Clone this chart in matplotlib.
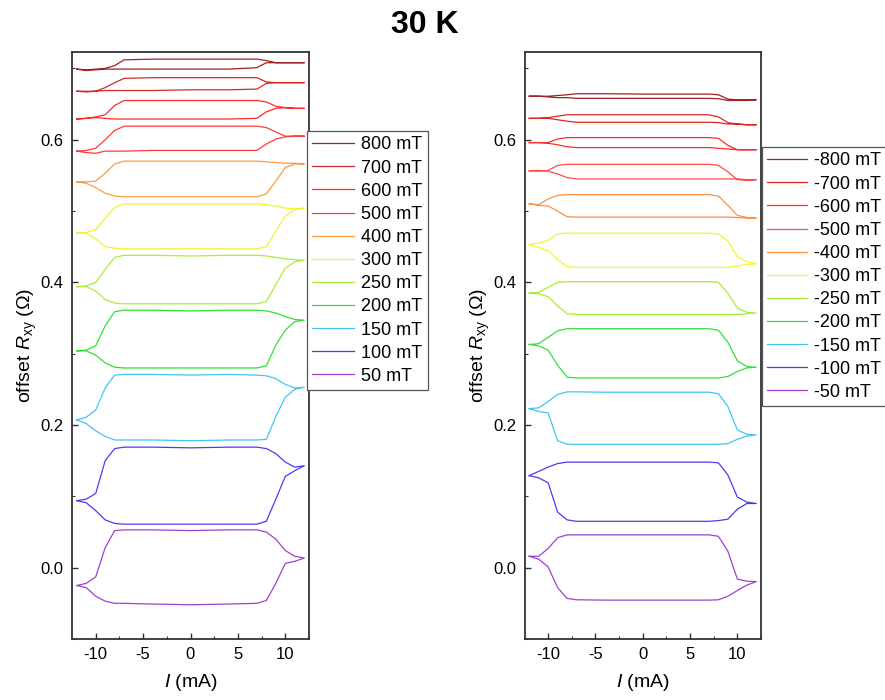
import numpy as np
import matplotlib
matplotlib.use('Agg')
import matplotlib.pyplot as plt

plt.rcParams['font.family'] = ['Liberation Sans', 'DejaVu Sans']
plt.rcParams['mathtext.fontset'] = 'custom'
plt.rcParams['mathtext.rm'] = 'Liberation Sans'
plt.rcParams['mathtext.it'] = 'Liberation Sans:italic'
plt.rcParams['axes.unicode_minus'] = False

# current sweep points (mA) shared by all branches
I_grid = [-12, -11, -10, -9, -8, -7, -4, 0, 4, 7, 8, 9, 10, 11, 12]

# positive fields (mT), top to bottom
pos_fields = [800, 700, 600, 500, 400, 300, 250, 200, 150, 100, 50]
pos_colors = ['#A02222', '#D42A2A', '#FF2A2A', '#FF3C3C', '#FF9A40', '#F2F230',
              '#A8EE3C', '#34E034', '#44C4F2', '#4B3CF0', '#A040D0']
pos_upper = {
    800: [0.699, 0.698, 0.699, 0.700, 0.704, 0.712, 0.713, 0.713, 0.713, 0.713, 0.711, 0.708, 0.708, 0.708, 0.708],
    700: [0.668, 0.668, 0.668, 0.673, 0.680, 0.686, 0.687, 0.687, 0.687, 0.687, 0.681, 0.680, 0.680, 0.680, 0.680],
    600: [0.629, 0.630, 0.632, 0.635, 0.648, 0.655, 0.655, 0.655, 0.655, 0.655, 0.653, 0.647, 0.645, 0.644, 0.644],
    500: [0.584, 0.585, 0.588, 0.600, 0.613, 0.619, 0.619, 0.619, 0.619, 0.619, 0.617, 0.611, 0.605, 0.605, 0.605],
    400: [0.541, 0.541, 0.542, 0.553, 0.566, 0.570, 0.570, 0.570, 0.570, 0.570, 0.569, 0.568, 0.567, 0.567, 0.566],
    300: [0.469, 0.470, 0.474, 0.490, 0.505, 0.510, 0.510, 0.510, 0.510, 0.510, 0.509, 0.507, 0.504, 0.503, 0.504],
    250: [0.394, 0.395, 0.400, 0.418, 0.435, 0.438, 0.438, 0.437, 0.438, 0.438, 0.437, 0.435, 0.433, 0.432, 0.431],
    200: [0.304, 0.305, 0.311, 0.339, 0.359, 0.361, 0.361, 0.360, 0.361, 0.361, 0.360, 0.357, 0.352, 0.348, 0.347],
    150: [0.207, 0.211, 0.221, 0.252, 0.270, 0.271, 0.271, 0.270, 0.271, 0.270, 0.269, 0.265, 0.257, 0.252, 0.253],
    100: [0.094, 0.096, 0.104, 0.150, 0.167, 0.169, 0.169, 0.168, 0.169, 0.169, 0.167, 0.160, 0.148, 0.141, 0.143],
    50: [-0.025, -0.022, -0.013, 0.028, 0.052, 0.053, 0.053, 0.052, 0.053, 0.053, 0.050, 0.040, 0.024, 0.016, 0.0135],
}
pos_lower = {
    800: [0.699, 0.697, 0.698, 0.699, 0.699, 0.699, 0.699, 0.699, 0.699, 0.701, 0.708, 0.708, 0.708, 0.708, 0.708],
    700: [0.668, 0.667, 0.668, 0.669, 0.669, 0.669, 0.669, 0.670, 0.670, 0.671, 0.679, 0.680, 0.680, 0.680, 0.680],
    600: [0.629, 0.630, 0.631, 0.630, 0.629, 0.629, 0.629, 0.629, 0.629, 0.630, 0.639, 0.644, 0.645, 0.644, 0.644],
    500: [0.584, 0.582, 0.581, 0.584, 0.584, 0.584, 0.585, 0.585, 0.585, 0.585, 0.594, 0.601, 0.604, 0.605, 0.605],
    400: [0.541, 0.539, 0.533, 0.525, 0.521, 0.520, 0.520, 0.520, 0.520, 0.520, 0.524, 0.542, 0.561, 0.566, 0.566],
    300: [0.469, 0.469, 0.461, 0.450, 0.448, 0.447, 0.447, 0.447, 0.447, 0.447, 0.450, 0.472, 0.493, 0.502, 0.504],
    250: [0.394, 0.394, 0.388, 0.376, 0.371, 0.370, 0.370, 0.370, 0.370, 0.370, 0.373, 0.397, 0.420, 0.429, 0.431],
    200: [0.304, 0.304, 0.298, 0.287, 0.281, 0.280, 0.280, 0.280, 0.280, 0.280, 0.283, 0.312, 0.333, 0.345, 0.347],
    150: [0.207, 0.202, 0.192, 0.184, 0.179, 0.179, 0.179, 0.178, 0.179, 0.179, 0.180, 0.212, 0.239, 0.250, 0.253],
    100: [0.094, 0.091, 0.080, 0.067, 0.062, 0.061, 0.061, 0.061, 0.061, 0.061, 0.065, 0.096, 0.128, 0.136, 0.143],
    50: [-0.025, -0.028, -0.040, -0.047, -0.050, -0.050, -0.051, -0.052, -0.051, -0.050, -0.046, -0.022, 0.006, 0.009, 0.0135],
}

# negative fields (mT), top to bottom
neg_fields = [-800, -700, -600, -500, -400, -300, -250, -200, -150, -100, -50]
neg_colors = ['#A02222', '#E02424', '#FF2A2A', '#FF4A4A', '#FF9040', '#F5F530',
              '#A8EE30', '#34E040', '#44C4F2', '#4B3CF0', '#A040D0']
neg_upper = {
    -800: [0.661, 0.661, 0.661, 0.662, 0.663, 0.6645, 0.6645, 0.664, 0.664, 0.664, 0.663, 0.657, 0.656, 0.656, 0.656],
    -700: [0.630, 0.630, 0.631, 0.633, 0.635, 0.635, 0.635, 0.635, 0.635, 0.635, 0.632, 0.624, 0.622, 0.621, 0.621],
    -600: [0.596, 0.596, 0.596, 0.601, 0.603, 0.603, 0.603, 0.603, 0.603, 0.603, 0.602, 0.592, 0.586, 0.586, 0.586],
    -500: [0.5565, 0.556, 0.557, 0.564, 0.5655, 0.5655, 0.5655, 0.5655, 0.5655, 0.5655, 0.564, 0.555, 0.544, 0.543, 0.544],
    -400: [0.510, 0.509, 0.517, 0.522, 0.523, 0.523, 0.523, 0.523, 0.523, 0.523, 0.521, 0.508, 0.494, 0.491, 0.490],
    -300: [0.453, 0.455, 0.459, 0.468, 0.469, 0.469, 0.469, 0.469, 0.469, 0.469, 0.468, 0.458, 0.436, 0.429, 0.426],
    -250: [0.385, 0.386, 0.393, 0.400, 0.401, 0.401, 0.401, 0.401, 0.401, 0.401, 0.400, 0.385, 0.364, 0.358, 0.357],
    -200: [0.313, 0.314, 0.323, 0.332, 0.335, 0.335, 0.335, 0.335, 0.335, 0.335, 0.333, 0.316, 0.290, 0.282, 0.281],
    -150: [0.223, 0.224, 0.233, 0.243, 0.2465, 0.2465, 0.246, 0.246, 0.246, 0.246, 0.244, 0.226, 0.193, 0.187, 0.186],
    -100: [0.129, 0.135, 0.141, 0.146, 0.148, 0.148, 0.148, 0.148, 0.148, 0.148, 0.147, 0.130, 0.099, 0.092, 0.090],
    -50: [0.016, 0.016, 0.027, 0.042, 0.046, 0.046, 0.046, 0.046, 0.046, 0.046, 0.044, 0.023, -0.016, -0.019, -0.0195],
}
neg_lower = {
    -800: [0.661, 0.661, 0.660, 0.659, 0.659, 0.658, 0.658, 0.658, 0.658, 0.658, 0.6575, 0.655, 0.655, 0.655, 0.656],
    -700: [0.630, 0.630, 0.630, 0.628, 0.626, 0.6245, 0.6245, 0.6245, 0.6245, 0.6245, 0.624, 0.622, 0.622, 0.621, 0.621],
    -600: [0.596, 0.596, 0.595, 0.593, 0.590, 0.589, 0.589, 0.589, 0.589, 0.589, 0.588, 0.587, 0.586, 0.586, 0.586],
    -500: [0.5565, 0.557, 0.556, 0.552, 0.547, 0.545, 0.545, 0.545, 0.545, 0.545, 0.545, 0.545, 0.545, 0.544, 0.544],
    -400: [0.510, 0.508, 0.507, 0.500, 0.492, 0.4915, 0.4915, 0.4915, 0.4915, 0.4915, 0.4915, 0.4915, 0.491, 0.490, 0.490],
    -300: [0.453, 0.449, 0.444, 0.432, 0.422, 0.421, 0.421, 0.421, 0.421, 0.421, 0.421, 0.421, 0.423, 0.425, 0.426],
    -250: [0.385, 0.384, 0.380, 0.367, 0.356, 0.355, 0.355, 0.355, 0.355, 0.355, 0.355, 0.355, 0.355, 0.356, 0.357],
    -200: [0.313, 0.311, 0.305, 0.284, 0.267, 0.266, 0.266, 0.266, 0.266, 0.266, 0.266, 0.268, 0.275, 0.280, 0.281],
    -150: [0.223, 0.219, 0.217, 0.178, 0.173, 0.173, 0.173, 0.173, 0.173, 0.173, 0.173, 0.174, 0.180, 0.1845, 0.186],
    -100: [0.129, 0.126, 0.119, 0.078, 0.067, 0.065, 0.065, 0.065, 0.065, 0.065, 0.066, 0.068, 0.082, 0.090, 0.090],
    -50: [0.016, 0.012, 0.001, -0.028, -0.043, -0.045, -0.0455, -0.0455, -0.0455, -0.0455, -0.045, -0.040, -0.032, -0.0245, -0.0195],
}


def draw_panel(ax, fields, colors, upper, lower):
    I = np.array(I_grid)
    for f, c in zip(fields, colors):
        # upper branch forward, lower branch back -> closed loop
        x = np.concatenate([I, I[::-1]])
        y = np.concatenate([upper[f], lower[f][::-1]])
        ax.plot(x, y, color=c, lw=0.9, label=f'{f} mT')

    ax.set_xlim(-12.5, 12.5)
    ax.set_ylim(-0.075, 0.723)
    ax.set_xticks([-10, -5, 0, 5, 10])
    ax.set_xticks(np.arange(-10, 12.6, 2.5), minor=True)
    ax.set_yticks([0.0, 0.2, 0.4, 0.6])
    ax.set_yticks(np.arange(-0.1, 0.75, 0.1), minor=True)
    ax.tick_params(which='both', direction='in', labelsize=12, color='#333333')
    ax.tick_params(which='major', length=4, width=1, pad=6)
    ax.tick_params(which='minor', length=2.5, width=0.8)
    for s in ax.spines.values():
        s.set_linewidth(1.3)
        s.set_color('#333333')
    ax.set_xlabel('$I$ (mA)', fontsize=14, labelpad=7)
    ax.set_ylabel('offset $R_{\\mathrm{xy}}$ (\u03a9)', fontsize=14, labelpad=1)


fig = plt.figure(figsize=(8.85, 7), dpi=100)
ax1 = fig.add_axes([72 / 885, 1 - 639 / 700, 237 / 885, 587 / 700])
ax2 = fig.add_axes([524.5 / 885, 1 - 639 / 700, 236.5 / 885, 587 / 700])

draw_panel(ax1, pos_fields, pos_colors, pos_upper, pos_lower)
draw_panel(ax2, neg_fields, neg_colors, neg_upper, neg_lower)

for ax, (lx, ly), hl in [(ax1, (307, 131), 2.3), (ax2, (762, 147), 2.2)]:
    leg = ax.legend(loc='upper left', bbox_to_anchor=(lx / 885, 1 - ly / 700),
                    bbox_transform=fig.transFigure, borderaxespad=0,
                    fontsize=13, frameon=True, fancybox=False, framealpha=1,
                    edgecolor='#555555', handlelength=hl, handletextpad=0.4,
                    labelspacing=0.34, borderpad=0.3)
    leg.get_frame().set_linewidth(0.9)

fig.text(425 / 885, 1 - 25 / 700, '30 K', ha='center', va='center',
         fontsize=23, fontweight='bold')

fig.savefig('out.png', dpi=100)
